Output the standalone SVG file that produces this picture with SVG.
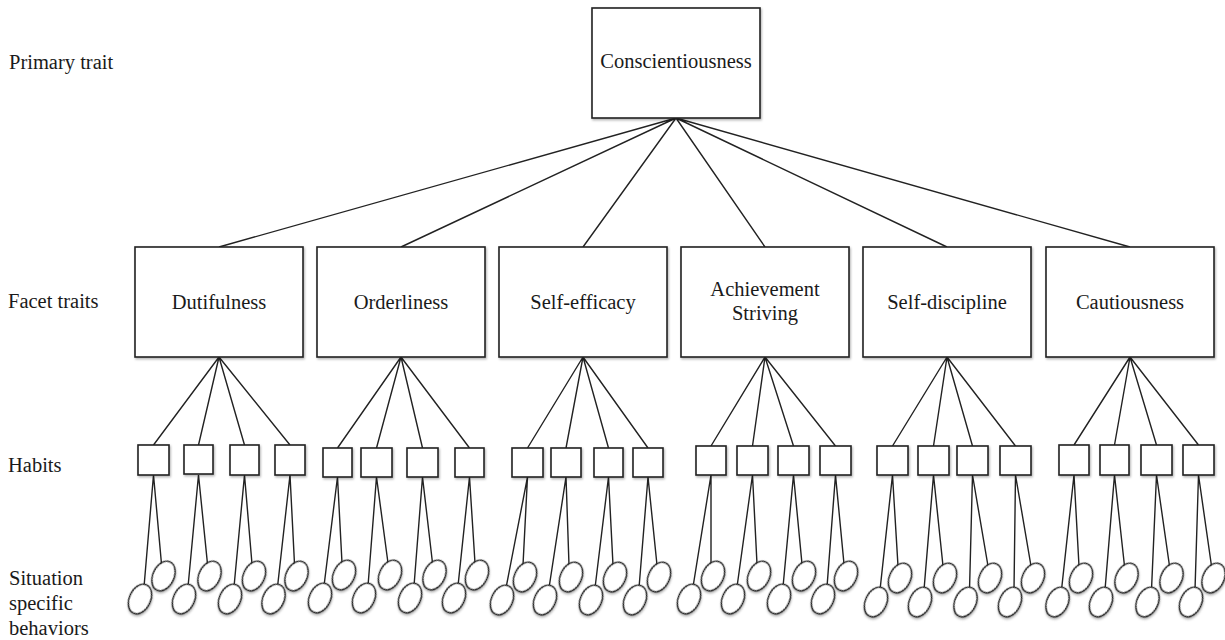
<svg xmlns="http://www.w3.org/2000/svg" width="1225" height="640" viewBox="0 0 1225 640">
<style>
.box{fill:#fff;stroke:#222;stroke-width:1.6;filter:url(#sh)}
.hb{fill:#fff;stroke:#222;stroke-width:1.6;filter:url(#sh)}
.el{fill:#fff;stroke:#222;stroke-width:1.5;filter:url(#sh)}
.ln{fill:none;stroke:#222;stroke-width:1.4}
.t{font-family:"Liberation Serif","Times New Roman",serif;font-size:20.5px;fill:#1a1a1a}
.c{text-anchor:middle}
</style>
<defs>
<filter id="sh" x="-20%" y="-20%" width="150%" height="150%">
<feDropShadow dx="1" dy="1.5" stdDeviation="1" flood-color="#000" flood-opacity="0.3"/>
</filter>
</defs>
<rect width="1225" height="640" fill="#fff"/>

<g id="labels">
<text class="t" x="9" y="69">Primary trait</text>
<text class="t" x="8" y="308">Facet traits</text>
<text class="t" x="8" y="472">Habits</text>
<text class="t" x="9" y="585">Situation</text>
<text class="t" x="9" y="610">specific</text>
<text class="t" x="9" y="635">behaviors</text>
</g>

<g id="connectors" class="ln">
<path d="M676 118L219 247M676 118L401 247M676 118L583 247M676 118L765 247M676 118L947 247M676 118L1130 247"/>
<path d="M219 357L153.5 445M219 357L198.5 445M219 357L244.5 445M219 357L290 445"/>
<path d="M401 357L337.5 448M401 357L376.5 448M401 357L422.5 448M401 357L469.5 448"/>
<path d="M583 357L527.5 448M583 357L566 448M583 357L608.5 448M583 357L648 448"/>
<path d="M765 357L711 446M765 357L752.5 446M765 357L793.5 446M765 357L835.5 446"/>
<path d="M947 357L892.5 446M947 357L933.5 446M947 357L972.5 446M947 357L1015.5 446"/>
<path d="M1130 357L1074 445M1130 357L1114.5 445M1130 357L1156.5 445M1130 357L1198.5 445"/>
<path d="M153.5 475L144 587M153.5 475L161.5 564M198.5 475L188 587M198.5 475L207.5 564M244.5 475L234 587M244.5 475L252 564M290 475L277.5 587M290 475L294.5 564"/>
<path d="M337.5 477L324 586M337.5 477L342 563M376.5 477L368 586M376.5 477L388 563M422.5 477L414 586M422.5 477L432.5 563M469.5 477L458 586M469.5 477L475 563"/>
<path d="M527.5 477L506 588M527.5 477L523 565M566 477L549 588M566 477L569 565M608.5 477L595 588M608.5 477L613 565M648 477L639 588M648 477L657 565"/>
<path d="M711 475L693 587M711 475L711 564M752.5 475L737 587M752.5 475L757 564M793.5 475L783 587M793.5 475L802 564M835.5 475L827 587M835.5 475L844 564"/>
<path d="M892.5 475L880 590M892.5 475L898 566M933.5 475L924 590M933.5 475L943 566M972.5 475L969.5 590M972.5 475L988 566M1015.5 475L1014 590M1015.5 475L1031 566"/>
<path d="M1074 475L1061.5 590M1074 475L1079 566M1114.5 475L1105 590M1114.5 475L1124.5 566M1156.5 475L1151.5 590M1156.5 475L1169.5 566M1198.5 475L1195 590M1198.5 475L1211.5 566"/>
</g>

<g id="primary">
<rect class="box" x="592" y="8" width="168" height="110"/>
<text class="t c" x="676" y="68">Conscientiousness</text>
</g>

<g id="facet-dutifulness">
<rect class="box" x="135" y="247" width="168" height="110"/>
<text class="t c" x="219" y="309">Dutifulness</text>
</g>
<g id="facet-orderliness">
<rect class="box" x="317" y="247" width="168" height="110"/>
<text class="t c" x="401" y="309">Orderliness</text>
</g>
<g id="facet-self-efficacy">
<rect class="box" x="499" y="247" width="168" height="110"/>
<text class="t c" x="583" y="309">Self-efficacy</text>
</g>
<g id="facet-achievement">
<rect class="box" x="681" y="247" width="168" height="110"/>
<text class="t c" x="765" y="296">Achievement</text>
<text class="t c" x="765" y="320">Striving</text>
</g>
<g id="facet-self-discipline">
<rect class="box" x="863" y="247" width="168" height="110"/>
<text class="t c" x="947" y="309">Self-discipline</text>
</g>
<g id="facet-cautiousness">
<rect class="box" x="1046" y="247" width="168" height="110"/>
<text class="t c" x="1130" y="309">Cautiousness</text>
</g>

<g id="habits-dutifulness">
<rect class="hb" x="138" y="445" width="31" height="30"/>
<rect class="hb" x="184" y="445" width="29" height="29"/>
<rect class="hb" x="230" y="445" width="29" height="30"/>
<rect class="hb" x="275" y="445" width="30" height="30"/>
</g>
<g id="habits-orderliness">
<rect class="hb" x="323" y="448" width="29" height="29"/>
<rect class="hb" x="361" y="448" width="31" height="29"/>
<rect class="hb" x="407" y="448" width="31" height="29"/>
<rect class="hb" x="455" y="448" width="29" height="29"/>
</g>
<g id="habits-self-efficacy">
<rect class="hb" x="512" y="448" width="31" height="29"/>
<rect class="hb" x="551" y="448" width="30" height="29"/>
<rect class="hb" x="594" y="448" width="29" height="29"/>
<rect class="hb" x="633" y="448" width="30" height="29"/>
</g>
<g id="habits-achievement">
<rect class="hb" x="696" y="446" width="30" height="29"/>
<rect class="hb" x="737" y="446" width="31" height="29"/>
<rect class="hb" x="778" y="446" width="31" height="29"/>
<rect class="hb" x="820" y="446" width="31" height="29"/>
</g>
<g id="habits-self-discipline">
<rect class="hb" x="877" y="446" width="31" height="29"/>
<rect class="hb" x="918" y="446" width="31" height="29"/>
<rect class="hb" x="957" y="446" width="31" height="29"/>
<rect class="hb" x="1000" y="446" width="31" height="29"/>
</g>
<g id="habits-cautiousness">
<rect class="hb" x="1059" y="445" width="30" height="30"/>
<rect class="hb" x="1100" y="445" width="29" height="30"/>
<rect class="hb" x="1141" y="445" width="31" height="30"/>
<rect class="hb" x="1183" y="445" width="31" height="30"/>
</g>

<g id="behaviors-dutifulness">
<ellipse class="el" cx="140" cy="599" rx="10.5" ry="15.5" transform="rotate(25 140 599)"/>
<ellipse class="el" cx="163.5" cy="576" rx="10.5" ry="15.5" transform="rotate(25 163.5 576)"/>
<ellipse class="el" cx="184" cy="599" rx="10.5" ry="15.5" transform="rotate(25 184 599)"/>
<ellipse class="el" cx="209.5" cy="576" rx="10.5" ry="15.5" transform="rotate(25 209.5 576)"/>
<ellipse class="el" cx="230" cy="599" rx="10.5" ry="15.5" transform="rotate(25 230 599)"/>
<ellipse class="el" cx="254" cy="576" rx="10.5" ry="15.5" transform="rotate(25 254 576)"/>
<ellipse class="el" cx="273.5" cy="599" rx="10.5" ry="15.5" transform="rotate(25 273.5 599)"/>
<ellipse class="el" cx="296.5" cy="576" rx="10.5" ry="15.5" transform="rotate(25 296.5 576)"/>
</g>
<g id="behaviors-orderliness">
<ellipse class="el" cx="320" cy="598" rx="10.5" ry="15.5" transform="rotate(25 320 598)"/>
<ellipse class="el" cx="344" cy="575" rx="10.5" ry="15.5" transform="rotate(25 344 575)"/>
<ellipse class="el" cx="364" cy="598" rx="10.5" ry="15.5" transform="rotate(25 364 598)"/>
<ellipse class="el" cx="390" cy="575" rx="10.5" ry="15.5" transform="rotate(25 390 575)"/>
<ellipse class="el" cx="410" cy="598" rx="10.5" ry="15.5" transform="rotate(25 410 598)"/>
<ellipse class="el" cx="434.5" cy="575" rx="10.5" ry="15.5" transform="rotate(25 434.5 575)"/>
<ellipse class="el" cx="454" cy="598" rx="10.5" ry="15.5" transform="rotate(25 454 598)"/>
<ellipse class="el" cx="477" cy="575" rx="10.5" ry="15.5" transform="rotate(25 477 575)"/>
</g>
<g id="behaviors-self-efficacy">
<ellipse class="el" cx="502" cy="600" rx="10.5" ry="15.5" transform="rotate(25 502 600)"/>
<ellipse class="el" cx="525" cy="577" rx="10.5" ry="15.5" transform="rotate(25 525 577)"/>
<ellipse class="el" cx="545" cy="600" rx="10.5" ry="15.5" transform="rotate(25 545 600)"/>
<ellipse class="el" cx="571" cy="577" rx="10.5" ry="15.5" transform="rotate(25 571 577)"/>
<ellipse class="el" cx="591" cy="600" rx="10.5" ry="15.5" transform="rotate(25 591 600)"/>
<ellipse class="el" cx="615" cy="577" rx="10.5" ry="15.5" transform="rotate(25 615 577)"/>
<ellipse class="el" cx="635" cy="600" rx="10.5" ry="15.5" transform="rotate(25 635 600)"/>
<ellipse class="el" cx="659" cy="577" rx="10.5" ry="15.5" transform="rotate(25 659 577)"/>
</g>
<g id="behaviors-achievement">
<ellipse class="el" cx="689" cy="599" rx="10.5" ry="15.5" transform="rotate(25 689 599)"/>
<ellipse class="el" cx="713" cy="576" rx="10.5" ry="15.5" transform="rotate(25 713 576)"/>
<ellipse class="el" cx="733" cy="599" rx="10.5" ry="15.5" transform="rotate(25 733 599)"/>
<ellipse class="el" cx="759" cy="576" rx="10.5" ry="15.5" transform="rotate(25 759 576)"/>
<ellipse class="el" cx="779" cy="599" rx="10.5" ry="15.5" transform="rotate(25 779 599)"/>
<ellipse class="el" cx="804" cy="576" rx="10.5" ry="15.5" transform="rotate(25 804 576)"/>
<ellipse class="el" cx="823" cy="599" rx="10.5" ry="15.5" transform="rotate(25 823 599)"/>
<ellipse class="el" cx="846" cy="576" rx="10.5" ry="15.5" transform="rotate(25 846 576)"/>
</g>
<g id="behaviors-self-discipline">
<ellipse class="el" cx="876" cy="602" rx="10.5" ry="15.5" transform="rotate(25 876 602)"/>
<ellipse class="el" cx="900" cy="578" rx="10.5" ry="15.5" transform="rotate(25 900 578)"/>
<ellipse class="el" cx="920" cy="602" rx="10.5" ry="15.5" transform="rotate(25 920 602)"/>
<ellipse class="el" cx="945" cy="578" rx="10.5" ry="15.5" transform="rotate(25 945 578)"/>
<ellipse class="el" cx="965.5" cy="602" rx="10.5" ry="15.5" transform="rotate(25 965.5 602)"/>
<ellipse class="el" cx="990" cy="578" rx="10.5" ry="15.5" transform="rotate(25 990 578)"/>
<ellipse class="el" cx="1010" cy="602" rx="10.5" ry="15.5" transform="rotate(25 1010 602)"/>
<ellipse class="el" cx="1033" cy="578" rx="10.5" ry="15.5" transform="rotate(25 1033 578)"/>
</g>
<g id="behaviors-cautiousness">
<ellipse class="el" cx="1057.5" cy="602" rx="10.5" ry="15.5" transform="rotate(25 1057.5 602)"/>
<ellipse class="el" cx="1081" cy="578" rx="10.5" ry="15.5" transform="rotate(25 1081 578)"/>
<ellipse class="el" cx="1101" cy="602" rx="10.5" ry="15.5" transform="rotate(25 1101 602)"/>
<ellipse class="el" cx="1126.5" cy="578" rx="10.5" ry="15.5" transform="rotate(25 1126.5 578)"/>
<ellipse class="el" cx="1147.5" cy="602" rx="10.5" ry="15.5" transform="rotate(25 1147.5 602)"/>
<ellipse class="el" cx="1171.5" cy="578" rx="10.5" ry="15.5" transform="rotate(25 1171.5 578)"/>
<ellipse class="el" cx="1191" cy="602" rx="10.5" ry="15.5" transform="rotate(25 1191 602)"/>
<ellipse class="el" cx="1213.5" cy="578" rx="10.5" ry="15.5" transform="rotate(25 1213.5 578)"/>
</g>
</svg>
